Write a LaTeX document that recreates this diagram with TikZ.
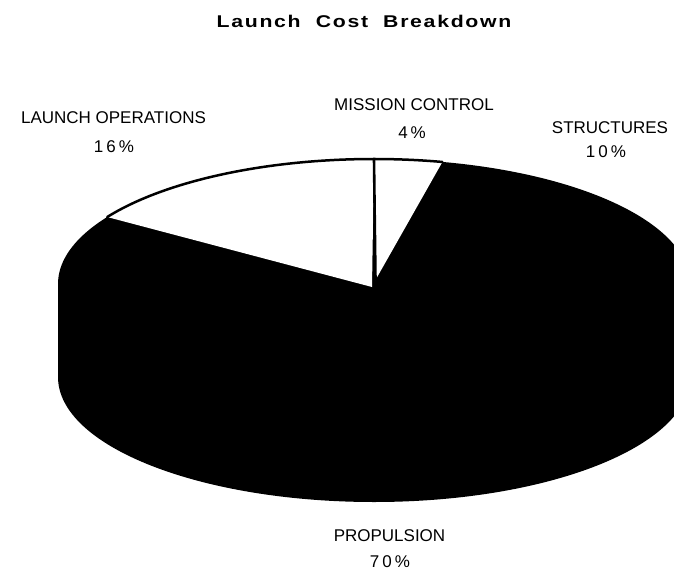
\documentclass[tikz,border=0pt]{standalone}
\usepackage{fontspec}
\setmainfont{Liberation Sans}
\usetikzlibrary{calc}
\begin{document}
\begin{tikzpicture}[x=1pt,y=1pt,
  lbl/.style={font=\fontsize{17}{17}\selectfont, inner sep=0pt, anchor=base},
  pct/.style={font=\fontsize{17}{17}\selectfont\addfontfeature{LetterSpace=18}, inner sep=0pt, anchor=base},
  ttl/.style={font=\fontsize{17}{17}\selectfont\bfseries\addfontfeature{LetterSpace=8}, inner sep=0pt, anchor=base, xscale=1.25},
  rim/.style={line width=2.5pt, line cap=round},
  divider/.style={line width=2.6pt},
  ell/.style={x radius=316, y radius=125}]
\useasboundingbox (0,0) rectangle (674,574);
\clip (0,0) rectangle (674,574);
% geometry
\coordinate (C) at (374,290);
\coordinate (LOapex) at (372,287);
\coordinate (MCapex) at (375.5,294);
\coordinate (top) at (374,415);
\coordinate (LOend) at ($(C)+(147.6:316 and 125)$);
\coordinate (MCend) at ($(C)+(77:316 and 125)$);
% black body (top face + side)
\fill[black] (58,290) -- (58,197)
  arc[start angle=180, end angle=360, ell] -- (690,290)
  arc[start angle=0, end angle=180, ell] -- cycle;
% white slices
\fill[white] (LOapex) -- (LOend) arc[start angle=147.6, end angle=90, ell] -- cycle;
\fill[white] (MCapex) -- (top) arc[start angle=90, end angle=77.5, ell] -- cycle;
% outlines
\draw[rim] (LOend) arc[start angle=147.6, end angle=77.5, ell];
\draw[divider] (top) -- (MCapex);
% title
\node[ttl] (title) at (364,546) {Launch\hspace{6pt} Cost\hspace{6pt} Breakdown};
% labels
\node[lbl] (lo) at (113.5,450) {LAUNCH OPERATIONS};
\node[pct] (lop) at (114,421) {16\%};
\node[lbl] (mc) at (414,463) {MISSION CONTROL};
\node[pct] (mcp) at (412,435) {4\,\%};
\node[lbl] (st) at (610,440) {STRUCTURES};
\node[pct] (stp) at (606,417) {10\%};
\node[lbl] (pr) at (389.5,33) {PROPULSION};
\node[pct] (prp) at (390,7) {70\%};
\end{tikzpicture}
\end{document}
